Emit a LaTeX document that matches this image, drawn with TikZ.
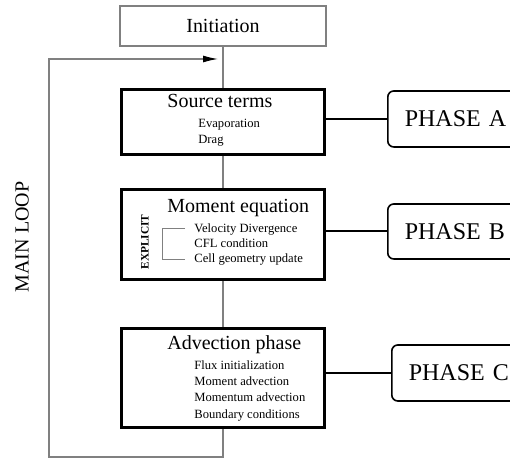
\documentclass[tikz,border=0pt]{standalone}
\usepackage{fontspec}
\setmainfont{Liberation Serif}
\usetikzlibrary{arrows.meta,positioning}

\begin{document}
\begin{tikzpicture}[x=0.5pt,y=-0.5pt]
\tikzstyle{every node}+=[inner sep=0pt]
\tikzstyle{thinbox}=[draw=gray, line width=0.6pt, minimum width=103pt, font=\fontsize{10}{12}\selectfont]
\tikzstyle{stagebox}=[draw=black, line width=1.7pt, minimum width=101.5pt]
\tikzstyle{phasebox}=[draw=black, line width=0.8pt, rounded corners=3pt, anchor=west, inner xsep=8.5pt, text width=60pt, align=left, font=\fontsize{12}{14}\selectfont]
\tikzstyle{title}=[anchor=base west, font=\fontsize{10}{12}\selectfont]
\tikzstyle{item}=[anchor=base west, font=\fontsize{6.3}{8}\selectfont]
\tikzstyle{link}=[draw=gray, line width=0.6pt]
\tikzstyle{tie}=[draw=black, line width=1pt]
\useasboundingbox (0,0) rectangle (510,459);
\clip (0,0) rectangle (510,459);

% main boxes
\node[thinbox, minimum height=20pt, text depth=-1pt] (init) at (223,26) {Initiation};
\node[stagebox, minimum height=32.5pt] (src) at (223,122) {};
\node[stagebox, minimum height=45pt] (mom) at (223,234.5) {};
\node[stagebox, minimum height=49.5pt] (adv) at (223,378) {};

% phases
\node[phasebox, minimum height=28pt] (phA) at (387,119) {PHASE A};
\node[phasebox, minimum height=27.5pt] (phB) at (387,231.5) {PHASE B};
\node[phasebox, minimum height=28pt] (phC) at (391,373) {PHASE C};

% texts
\node[title] (srcT) at (167,108) {Source terms};
\node[item] (srcA) at (198,128) {Evaporation};
\node[item] (srcB) at (198,144) {Drag};

\node[title] (momT) at (167,213) {Moment equation};
\node[item] (momA) at (194,233) {Velocity Divergence};
\node[item] (momB) at (194,248) {CFL condition};
\node[item] (momC) at (194,263) {Cell geometry update};
\node[rotate=90, font=\bfseries\fontsize{5.7}{7}\selectfont] (expl) at (145,242) {EXPLICIT};
\draw[link, line width=0.5pt] (185,229) -- (162,229) -- (162,260) -- (185,260);

\node[title] (advT) at (167,350) {Advection phase};
\node[item] (advA) at (194,370) {Flux initialization};
\node[item] (advB) at (194,386) {Moment advection};
\node[item] (advC) at (194,402) {Momentum advection};
\node[item] (advD) at (194,419) {Boundary conditions};

\node[rotate=90, font=\fontsize{10}{12}\selectfont] (loop) at (22,237) {MAIN LOOP};

% links
\draw[link] (init.south) -- (src.north);
\draw[link] (src.south) -- (mom.north);
\draw[link] (mom.south) -- (adv.north);
\draw[tie] (phA.west -| src.east) -- (phA.west);
\draw[tie] (phB.west -| mom.east) -- (phB.west);
\draw[tie] (phC.west -| adv.east) -- (phC.west);

% loop back
\coordinate (lb) at (223,457);
\coordinate (lc) at (49,457);
\coordinate (lt) at (49,59);
\coordinate (la) at (218,59);
\draw[link, -{Latex[length=7.5pt,width=3.5pt,color=black]}] (adv.south) -- (lb) -- (lc) -- (lt) -- (la);
\end{tikzpicture}
\end{document}
